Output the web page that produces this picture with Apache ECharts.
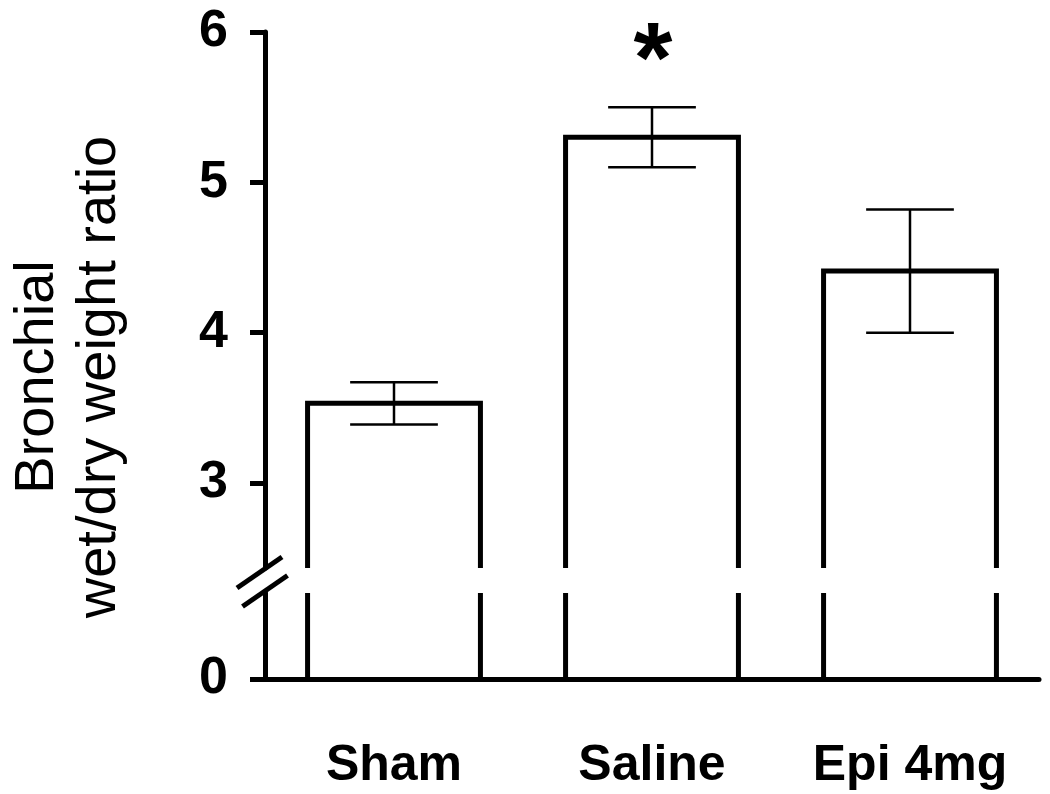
<!DOCTYPE html>
<html>
<head>
<meta charset="utf-8">
<script src="https://cdn.jsdelivr.net/npm/echarts@6/dist/echarts.min.js"></script>
<style>html,body{margin:0;padding:0;background:#fff}#c{width:1050px;height:794px}</style>
</head>
<body>
<div id="c"></div>
<script>
// ---- data ----
const categories = ['Sham', 'Saline', 'Epi 4mg'];
const means = [3.53, 5.30, 4.41];
const errors = [0.14, 0.20, 0.41];
const marks = ['', '*', ''];
const upperTicks = [3, 4, 5, 6];
const lowerTicks = [0];
const axisTitle = ['Bronchial', 'wet/dry weight ratio'];

// ---- layout ----
const FONT = '"Liberation Sans", Arial, sans-serif';
const gridLeft = 265, gridWidth = 774;
const upperTop = 32, upperBottom = 568;
const lowerTop = 593, lowerBottom = 679;
const barFrac = 0.67, capFrac = 0.34;

const chart = echarts.init(document.getElementById('c'), null, {renderer: 'canvas'});

function upperItem(params, api) {
  const i = api.value(0), m = api.value(1), e = api.value(2);
  const band = api.size([1, 0])[0];
  const hw = band * barFrac / 2, cw = band * capFrac / 2;
  const top = api.coord([i, m]);
  const hi = api.coord([i, m + e]);
  const lo = api.coord([i, m - e]);
  const cs = params.coordSys;
  const bottom = cs.y + cs.height;
  const x = top[0];
  const children = [
    {type: 'polyline', shape: {points: [[x - hw, bottom], [x - hw, top[1]], [x + hw, top[1]], [x + hw, bottom]]},
     style: {stroke: '#000', lineWidth: 5, fill: null, lineJoin: 'miter'}},
    {type: 'line', shape: {x1: x, y1: hi[1], x2: x, y2: lo[1]}, style: {stroke: '#000', lineWidth: 2.5}},
    {type: 'line', shape: {x1: x - cw, y1: hi[1], x2: x + cw, y2: hi[1]}, style: {stroke: '#000', lineWidth: 2.5}},
    {type: 'line', shape: {x1: x - cw, y1: lo[1], x2: x + cw, y2: lo[1]}, style: {stroke: '#000', lineWidth: 2.5}}
  ];
  const mk = marks[params.dataIndex];
  if (mk) {
    children.push({type: 'text', x: x + 1, y: hi[1] - 43,
      style: {text: mk, font: 'bold 100px ' + FONT, fill: '#000', align: 'center', verticalAlign: 'middle'}});
  }
  return {type: 'group', children: children};
}

function lowerItem(params, api) {
  const i = api.value(0);
  const band = api.size([1, 0])[0];
  const hw = band * barFrac / 2;
  const base = api.coord([i, 0]);
  const cs = params.coordSys;
  const x = base[0];
  return {type: 'group', children: [
    {type: 'line', shape: {x1: x - hw, y1: base[1], x2: x - hw, y2: cs.y}, style: {stroke: '#000', lineWidth: 5}},
    {type: 'line', shape: {x1: x + hw, y1: base[1], x2: x + hw, y2: cs.y}, style: {stroke: '#000', lineWidth: 5}}
  ]};
}

const breakY = (upperBottom + lowerTop) / 2;
const sl = [22.5, -15.5];

const option = {
  backgroundColor: '#fff',
  animation: false,
  grid: [
    {left: gridLeft, width: gridWidth, top: upperTop, height: upperBottom - upperTop},
    {left: gridLeft, width: gridWidth, top: lowerTop, height: lowerBottom - lowerTop}
  ],
  xAxis: [
    {type: 'category', gridIndex: 0, data: categories, show: false},
    {type: 'category', gridIndex: 1, data: categories,
     axisLine: {lineStyle: {color: '#000', width: 5}},
     axisTick: {alignWithLabel: true, length: 26, lineStyle: {color: '#000', width: 5}},
     axisLabel: {color: '#000', fontSize: 50, fontWeight: 'bold', fontFamily: FONT, margin: 62}}
  ],
  yAxis: [
    {type: 'value', gridIndex: 0, min: 2.435, max: 6,
     splitLine: {show: false},
     axisLine: {show: true, lineStyle: {color: '#000', width: 5}},
     axisTick: {show: true, customValues: upperTicks, length: 15, lineStyle: {color: '#000', width: 5}},
     axisLabel: {customValues: upperTicks, color: '#000', fontSize: 52, fontWeight: 'bold', fontFamily: FONT, margin: 37}},
    {type: 'value', gridIndex: 1, min: 0, max: 1,
     splitLine: {show: false},
     axisLine: {show: true, lineStyle: {color: '#000', width: 5}},
     axisTick: {show: true, customValues: lowerTicks, length: 15, lineStyle: {color: '#000', width: 5}},
     axisLabel: {customValues: lowerTicks, color: '#000', fontSize: 52, fontWeight: 'bold', fontFamily: FONT, margin: 37}}
  ],
  series: [
    {type: 'custom', xAxisIndex: 0, yAxisIndex: 0, renderItem: upperItem, encode: {x: 0, y: 1},
     data: means.map((m, i) => [i, m, errors[i]]), z: 3},
    {type: 'custom', xAxisIndex: 1, yAxisIndex: 1, renderItem: lowerItem, encode: {x: 0, y: 1},
     data: means.map((m, i) => [i, 0]), z: 3}
  ],
  graphic: [
    {type: 'text', x: 69, y: 377, rotation: Math.PI / 2,
     style: {text: axisTitle.join('\n'), font: '56px ' + FONT, fill: '#000', align: 'center', verticalAlign: 'middle', lineHeight: 62}},
    {type: 'line', z: 100, shape: {x1: gridLeft - 5.5 - sl[0], y1: breakY - 8 - sl[1], x2: gridLeft - 5.5 + sl[0], y2: breakY - 8 + sl[1]},
     style: {stroke: '#000', lineWidth: 5}},
    {type: 'line', z: 100, shape: {x1: gridLeft - sl[0], y1: breakY + 10.5 - sl[1], x2: gridLeft + sl[0], y2: breakY + 10.5 + sl[1]},
     style: {stroke: '#000', lineWidth: 5}}
  ]
};
chart.setOption(option);
</script>
</body>
</html>
